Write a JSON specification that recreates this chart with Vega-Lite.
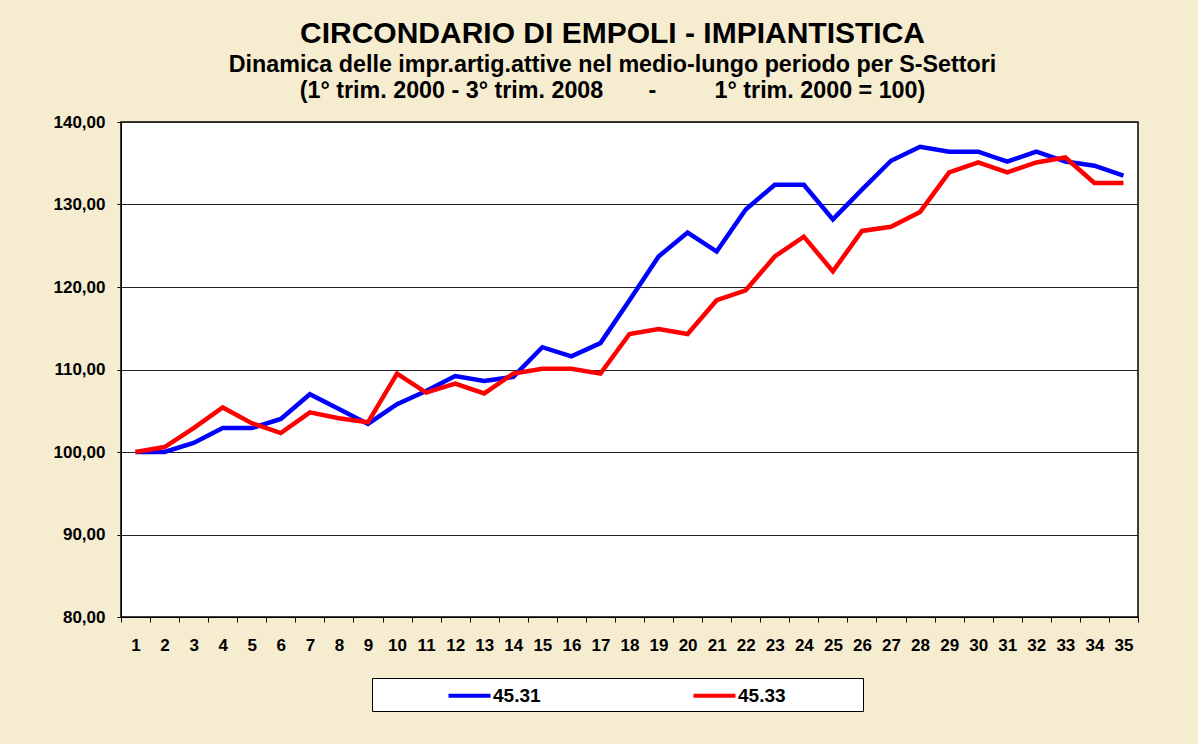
{
  "$schema": "https://vega.github.io/schema/vega-lite/v6.json",
  "width": 1017,
  "height": 495,
  "autosize": {"type": "none"},
  "padding": {"left": 121, "top": 122, "right": 60, "bottom": 127},
  "background": "#F6ECD0",
  "title": {
    "text": "CIRCONDARIO DI EMPOLI - IMPIANTISTICA",
    "subtitle": [
      "Dinamica delle impr.artig.attive nel medio-lungo periodo per S-Settori",
      "(1° trim. 2000 - 3° trim. 2008\u00a0\u00a0\u00a0\u00a0\u00a0\u00a0 -\u00a0\u00a0\u00a0\u00a0\u00a0\u00a0\u00a0\u00a0 1° trim. 2000 = 100)"
    ],
    "anchor": "middle",
    "dx": -17,
    "offset": 11,
    "fontSize": 30,
    "fontWeight": "bold",
    "color": "black",
    "subtitleFontSize": 23.3,
    "subtitleFontWeight": "bold",
    "subtitleColor": "black",
    "subtitlePadding": 5,
    "subtitleLineHeight": 26
  },
  "data": {
    "values": [
      {"t": 1, "s": "45.31", "v": 100.0}, {"t": 2, "s": "45.31", "v": 100.0}, {"t": 3, "s": "45.31", "v": 101.1},
      {"t": 4, "s": "45.31", "v": 102.9}, {"t": 5, "s": "45.31", "v": 102.9}, {"t": 6, "s": "45.31", "v": 104.0},
      {"t": 7, "s": "45.31", "v": 107.0}, {"t": 8, "s": "45.31", "v": 105.2}, {"t": 9, "s": "45.31", "v": 103.4},
      {"t": 10, "s": "45.31", "v": 105.8}, {"t": 11, "s": "45.31", "v": 107.4}, {"t": 12, "s": "45.31", "v": 109.2},
      {"t": 13, "s": "45.31", "v": 108.6}, {"t": 14, "s": "45.31", "v": 109.1}, {"t": 15, "s": "45.31", "v": 112.7},
      {"t": 16, "s": "45.31", "v": 111.6}, {"t": 17, "s": "45.31", "v": 113.2}, {"t": 18, "s": "45.31", "v": 118.4},
      {"t": 19, "s": "45.31", "v": 123.7}, {"t": 20, "s": "45.31", "v": 126.6}, {"t": 21, "s": "45.31", "v": 124.3},
      {"t": 22, "s": "45.31", "v": 129.4}, {"t": 23, "s": "45.31", "v": 132.4}, {"t": 24, "s": "45.31", "v": 132.4},
      {"t": 25, "s": "45.31", "v": 128.2}, {"t": 26, "s": "45.31", "v": 131.8}, {"t": 27, "s": "45.31", "v": 135.3},
      {"t": 28, "s": "45.31", "v": 137.0}, {"t": 29, "s": "45.31", "v": 136.4}, {"t": 30, "s": "45.31", "v": 136.4},
      {"t": 31, "s": "45.31", "v": 135.2}, {"t": 32, "s": "45.31", "v": 136.4}, {"t": 33, "s": "45.31", "v": 135.2},
      {"t": 34, "s": "45.31", "v": 134.7}, {"t": 35, "s": "45.31", "v": 133.5},
      {"t": 1, "s": "45.33", "v": 100.0}, {"t": 2, "s": "45.33", "v": 100.6}, {"t": 3, "s": "45.33", "v": 102.9},
      {"t": 4, "s": "45.33", "v": 105.4}, {"t": 5, "s": "45.33", "v": 103.5}, {"t": 6, "s": "45.33", "v": 102.3},
      {"t": 7, "s": "45.33", "v": 104.8}, {"t": 8, "s": "45.33", "v": 104.1}, {"t": 9, "s": "45.33", "v": 103.6},
      {"t": 10, "s": "45.33", "v": 109.5}, {"t": 11, "s": "45.33", "v": 107.2}, {"t": 12, "s": "45.33", "v": 108.3},
      {"t": 13, "s": "45.33", "v": 107.1}, {"t": 14, "s": "45.33", "v": 109.5}, {"t": 15, "s": "45.33", "v": 110.1},
      {"t": 16, "s": "45.33", "v": 110.1}, {"t": 17, "s": "45.33", "v": 109.5}, {"t": 18, "s": "45.33", "v": 114.3},
      {"t": 19, "s": "45.33", "v": 114.9}, {"t": 20, "s": "45.33", "v": 114.3}, {"t": 21, "s": "45.33", "v": 118.4},
      {"t": 22, "s": "45.33", "v": 119.6}, {"t": 23, "s": "45.33", "v": 123.7}, {"t": 24, "s": "45.33", "v": 126.1},
      {"t": 25, "s": "45.33", "v": 121.9}, {"t": 26, "s": "45.33", "v": 126.8}, {"t": 27, "s": "45.33", "v": 127.3},
      {"t": 28, "s": "45.33", "v": 129.1}, {"t": 29, "s": "45.33", "v": 133.9}, {"t": 30, "s": "45.33", "v": 135.1},
      {"t": 31, "s": "45.33", "v": 133.9}, {"t": 32, "s": "45.33", "v": 135.1}, {"t": 33, "s": "45.33", "v": 135.7},
      {"t": 34, "s": "45.33", "v": 132.6}, {"t": 35, "s": "45.33", "v": 132.6}
    ]
  },
  "mark": {"type": "line", "strokeWidth": 4.5},
  "encoding": {
    "x": {
      "field": "t",
      "type": "ordinal",
      "scale": {"type": "band", "paddingInner": 0, "paddingOuter": 0},
      "axis": {
        "title": null,
        "labelAngle": 0,
        "tickBand": "extent",
        "grid": false,
        "tickSize": 5,
        "tickColor": "black",
        "domainColor": "black",
        "labelPadding": 15,
        "labelFontSize": 17,
        "labelFontWeight": "bold",
        "labelColor": "black"
      }
    },
    "y": {
      "field": "v",
      "type": "quantitative",
      "scale": {"domain": [80, 140], "nice": false, "zero": false},
      "axis": {
        "title": null,
        "values": [80, 90, 100, 110, 120, 130, 140],
        "labelExpr": "replace(format(datum.value, '.2f'), '.', ',')",
        "grid": true,
        "gridColor": "#222222",
        "gridWidth": 1,
        "tickSize": 4,
        "tickColor": "black",
        "domainColor": "black",
        "labelPadding": 12,
        "labelFontSize": 17,
        "labelFontWeight": "bold",
        "labelColor": "black"
      }
    },
    "color": {
      "field": "s",
      "type": "nominal",
      "scale": {"domain": ["45.31", "45.33"], "range": ["#0000FF", "#FF0000"]},
      "legend": {
        "orient": "none",
        "legendX": 251,
        "legendY": 556,
        "direction": "horizontal",
        "fillColor": "white",
        "strokeColor": "black",
        "padding": 5,
        "title": null,
        "symbolType": "M-2,0H2M12.86,0",
        "symbolSize": 441,
        "symbolStrokeWidth": 4,
        "symbolOffset": 80,
        "labelFontSize": 19,
        "labelFontWeight": "bold",
        "labelColor": "black",
        "labelOffset": 11,
        "columnPadding": 9
      }
    }
  },
  "config": {
    "font": "Liberation Sans",
    "view": {"fill": "white", "stroke": "black", "strokeWidth": 1.5}
  }
}
